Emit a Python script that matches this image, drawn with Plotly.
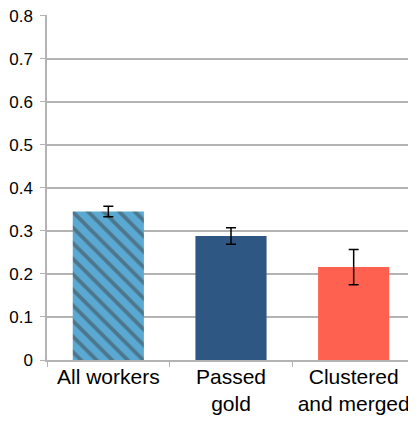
import plotly.graph_objects as go

# Chart values
categories = ["All workers", "Passed<br>gold", "Clustered<br>and merged"]
values = [0.345, 0.288, 0.216]
errors = [0.012, 0.019, 0.041]
y_ticks = [0, 0.1, 0.2, 0.3, 0.4, 0.5, 0.6, 0.7, 0.8]

light_blue = "#59a9d3"
dark_blue = "#2f5784"
coral = "#ff6150"

fig = go.Figure()

fig.add_trace(
    go.Bar(
        x=categories,
        y=values,
        marker=dict(
            color=[light_blue, dark_blue, coral],
            line=dict(width=0),
            pattern=dict(
                shape=["\\", "", ""],
                fgcolor=dark_blue,
                bgcolor=light_blue,
                size=11,
                solidity=0.35,
                fillmode="overlay",
            ),
        ),
        error_y=dict(type="data", array=errors, color="black", thickness=1.5, width=5),
        width=0.58,
        hoverinfo="x+y",
    )
)

# page body has an 8px margin, so the figure is sized to fit inside it
fig.update_layout(
    width=408,
    height=408,
    margin=dict(l=39, r=1, t=7, b=56),
    paper_bgcolor="white",
    plot_bgcolor="white",
    showlegend=False,
    font=dict(family="Liberation Sans, Arial, sans-serif", color="black"),
    xaxis=dict(
        tickfont=dict(size=21),
        tickangle=0,
        ticklabelstandoff=-3,
        showline=True,
        linecolor="#b3b3b3",
        linewidth=1.5,
        ticks="outside",
        tickson="boundaries",
        ticklen=5,
        tickcolor="#b3b3b3",
        showgrid=False,
        automargin=False,
    ),
    yaxis=dict(
        range=[0, 0.8015],
        tickvals=y_ticks,
        ticktext=["0" if v == 0 else f"{v:.1f}" for v in y_ticks],
        tickfont=dict(size=17),
        ticklabeloverflow="allow",
        ticklabelstandoff=4,
        showline=True,
        linecolor="#b3b3b3",
        linewidth=1.5,
        ticks="outside",
        ticklen=5,
        tickcolor="#b3b3b3",
        showgrid=True,
        gridcolor="#b3b3b3",
        gridwidth=1.5,
        zeroline=False,
        automargin=False,
    ),
)

fig.write_html("out.html")
